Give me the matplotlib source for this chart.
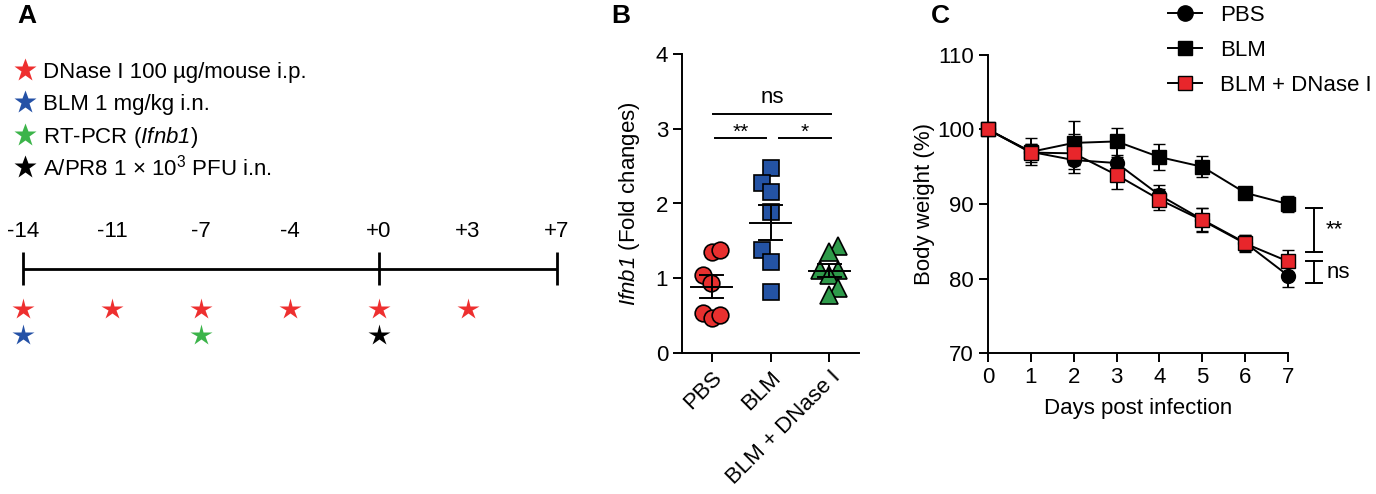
import matplotlib
matplotlib.use('Agg')
import matplotlib.pyplot as plt
import numpy as np
from matplotlib.lines import Line2D

plt.rcParams['font.family'] = ['Liberation Sans', 'DejaVu Sans']
plt.rcParams['mathtext.fontset'] = 'custom'
plt.rcParams['mathtext.rm'] = 'Liberation Sans:italic'
plt.rcParams['mathtext.it'] = 'Liberation Sans:italic'
plt.rcParams['mathtext.sf'] = 'Liberation Sans'

# ---------------- data ----------------
# Panel A: timeline
timeline_days = ['-14', '-11', '-7', '-4', '+0', '+3', '+7']
timeline_major = ['-14', '+0', '+7']
dnase_days = ['-14', '-11', '-7', '-4', '+0', '+3']
blm_days = ['-14']
rtpcr_days = ['-7']
pr8_days = ['+0']
legend_a_labels = ['DNase I 100 µg/mouse i.p.', 'BLM 1 mg/kg i.n.',
                   'RT-PCR ($\\mathrm{Ifnb1}$)', 'A/PR8 1 × 10$^{\\mathsf{3}}$ PFU i.n.']
star_red = '#ee2f2f'
star_blue = '#2451a6'
star_green = '#3cb44a'
star_black = '#000000'
legend_a_colors = [star_red, star_blue, star_green, star_black]

# Panel B: Ifnb1 fold changes
groups_b = ['PBS', 'BLM', 'BLM + DNase I']
pbs_vals = [1.345, 1.38, 1.05, 0.935, 0.535, 0.47, 0.51]
blm_vals = [2.47, 2.27, 2.16, 1.88, 1.38, 1.22, 0.81]
dnase_vals = [1.43, 1.35, 1.11, 1.11, 1.05, 0.87, 0.78]
# horizontal jitter (layout)
pbs_jit = [0.0, 0.14, -0.15, -0.01, -0.15, 0.0, 0.14]
blm_jit = [0.0, -0.15, 0.0, 0.0, -0.15, 0.0, 0.0]
dnase_jit = [0.15, 0.0, -0.16, 0.15, 0.0, 0.15, 0.0]
sig_b_labels = ['ns', '**', '*']
sig_b_y = [3.2, 2.87, 2.87]
sig_b_x0 = [0.03, 0.06, 1.14]
sig_b_x1 = [2.03, 0.93, 2.03]

# Panel C: body weight
days = [0, 1, 2, 3, 4, 5, 6, 7]
pbs_w = [100, 97.0, 95.9, 95.5, 91.2, 87.9, 84.8, 80.4]
pbs_err = [0, 1.8, 1.2, 0.8, 1.3, 1.5, 1.1, 1.5]
blm_w = [100, 97.0, 98.2, 98.4, 96.3, 95.0, 91.5, 90.0]
blm_err = [0, 1.0, 2.9, 1.8, 1.8, 1.4, 0.5, 1.1]
dn_w = [100, 96.9, 96.8, 93.9, 90.6, 87.8, 84.7, 82.3]
dn_err = [0, 1.2, 2.6, 1.9, 1.4, 1.6, 1.2, 1.5]
series_c = ['PBS', 'BLM', 'BLM + DNase I']
brk_labels = ['**', 'ns']
brk_lo = [83.6, 79.4]
brk_hi = [89.5, 82.3]

# ---------------- figure ----------------
W, H = 1376, 494
fig = plt.figure(figsize=(W / 100, H / 100), dpi=100)
LW = 1.4
FS = 16

# ---- Panel A ----
axa = fig.add_axes([0, 0, 600 / W, 1])
axa.set_xlim(-23 / 89, 577 / 89)
axa.set_ylim(494, 0)
axa.axis('off')
pos = {d: i for i, d in enumerate(timeline_days)}
xs = [pos[d] for d in timeline_days]
axa.plot([xs[0], xs[-1]], [269, 269], color='black', lw=2.0, solid_capstyle='butt')
for d in timeline_major:
    axa.plot([pos[d], pos[d]], [252, 285], color='black', lw=2.0, solid_capstyle='butt')
for d in timeline_days:
    axa.text(pos[d], 231, d, ha='center', va='center', fontsize=FS)
axa.plot([pos[d] for d in dnase_days], [309] * len(dnase_days), ls='none',
         marker='*', ms=16, color=star_red, mec='none')
axa.plot([pos[d] for d in blm_days], [335] * len(blm_days), ls='none',
         marker='*', ms=16, color=star_blue, mec='none')
axa.plot([pos[d] for d in rtpcr_days], [335] * len(rtpcr_days), ls='none',
         marker='*', ms=16, color=star_green, mec='none')
axa.plot([pos[d] for d in pr8_days], [335] * len(pr8_days), ls='none',
         marker='*', ms=16, color=star_black, mec='none')
# legend (key) of panel A, laid out row by row in figure pixels
for k, (lab, c) in enumerate(zip(legend_a_labels, legend_a_colors)):
    yc = 70 + 32.4 * k
    axa.add_line(Line2D([25 / W], [1 - yc / H], ls='none', marker='*', ms=17,
                        color=c, mec='none', transform=fig.transFigure))
    fig.text(43 / W, 1 - (yc + 8) / H, lab, fontsize=FS, va='baseline', ha='left')
fig.text(17 / W, 1 - 16 / H, 'A', fontsize=19, fontweight='bold', va='center')

# ---- Panel B ----
axb = fig.add_axes([682 / W, 1 - 353 / H, 177 / W, 299 / H])
axb.set_xlim(-0.5, 2.5)
axb.set_ylim(0, 4)
vals_list = [pbs_vals, blm_vals, dnase_vals]
jit_list = [pbs_jit, blm_jit, dnase_jit]
markers_b = ['o', 's', '^']
colors_b = ['#e8302f', '#2453a4', '#2e9a4a']
for i, (v, j, m, c) in enumerate(zip(vals_list, jit_list, markers_b, colors_b)):
    v = np.asarray(v)
    x = i + np.asarray(j)
    axb.plot(x, v, ls='none', marker=m, ms=12 if m != '^' else 12.5, mfc=c, mec='black',
             mew=1.2, zorder=3, clip_on=False)
    mean = v.mean()
    sem = v.std(ddof=1) / np.sqrt(len(v))
    axb.plot([i - 0.34, i + 0.34], [mean, mean], color='black', lw=LW, zorder=4)
    axb.plot([i, i], [mean - sem, mean + sem], color='black', lw=LW, zorder=4)
    for yy in (mean - sem, mean + sem):
        axb.plot([i - 0.2, i + 0.2], [yy, yy], color='black', lw=LW, zorder=4)
for lab, y, x0, x1 in zip(sig_b_labels, sig_b_y, sig_b_x0, sig_b_x1):
    axb.plot([x0, x1], [y, y], color='black', lw=LW)
    if lab == 'ns':
        axb.text((x0 + x1) / 2, y + 0.08, lab, ha='center', va='bottom', fontsize=FS)
    else:
        axb.text((x0 + x1) / 2, y - 0.05, lab, ha='center', va='bottom', fontsize=15)
axb.set_xticks(range(len(groups_b)))
axb.set_xticklabels(groups_b, rotation=45, ha='right', rotation_mode='anchor', fontsize=FS)
axb.set_yticks([0, 1, 2, 3, 4])
axb.tick_params(labelsize=FS, width=LW, length=6.5)
axb.spines['top'].set_visible(False)
axb.spines['right'].set_visible(False)
for s in ('left', 'bottom'):
    axb.spines[s].set_linewidth(LW)
axb.set_ylabel('$\\mathrm{Ifnb1}$ (Fold changes)', fontsize=FS, labelpad=10)
fig.text(611 / W, 1 - 16 / H, 'B', fontsize=19, fontweight='bold', va='center')

# ---- Panel C ----
axc = fig.add_axes([988 / W, 1 - 353 / H, 300 / W, 298 / H])
axc.set_xlim(0, 7)
axc.set_ylim(70, 110)
specs = [(pbs_w, pbs_err, 'o', 'black', 10),
         (blm_w, blm_err, 's', 'black', 10),
         (dn_w, dn_err, 's', '#e8262b', 10)]
handles_c = []
for (w, e, m, fc, ms), lab in zip(specs, series_c):
    axc.errorbar(days, w, yerr=e, color='black', lw=LW, elinewidth=LW, capsize=4,
                 capthick=LW, marker=m, ms=ms, mfc=fc, mec='black', mew=1.0,
                 clip_on=False, zorder=3)
    handles_c.append(Line2D([], [], color='black', lw=LW, marker=m,
                            ms=11 if m == 'o' else 9.5, mfc=fc, mec='black', mew=1.0))
for lab, lo, hi in zip(brk_labels, brk_lo, brk_hi):
    xb = 7.6
    axc.plot([xb, xb], [lo, hi], color='black', lw=LW, clip_on=False)
    axc.plot([xb - 0.19, xb + 0.19], [lo, lo], color='black', lw=LW, clip_on=False)
    axc.plot([xb - 0.19, xb + 0.19], [hi, hi], color='black', lw=LW, clip_on=False)
    axc.text(xb + 0.29, (lo + hi) / 2, lab, ha='left', va='center', fontsize=FS)
axc.set_xticks(days)
axc.set_yticks([70, 80, 90, 100, 110])
axc.tick_params(labelsize=FS, width=LW, length=6.5)
axc.spines['top'].set_visible(False)
axc.spines['right'].set_visible(False)
for s in ('left', 'bottom'):
    axc.spines[s].set_linewidth(LW)
axc.set_xlabel('Days post infection', fontsize=FS, labelpad=7)
axc.set_ylabel('Body weight (%)', fontsize=FS, labelpad=1)
fig.legend(handles_c, series_c, loc='upper left', bbox_to_anchor=(1168 / W, 1 - 5 / H),
           frameon=False, fontsize=FS, handlelength=1.55, handletextpad=0.8,
           labelspacing=0.62, borderpad=0, borderaxespad=0)
fig.text(931 / W, 1 - 16 / H, 'C', fontsize=19, fontweight='bold', va='center')

fig.savefig('out.png', dpi=100)
